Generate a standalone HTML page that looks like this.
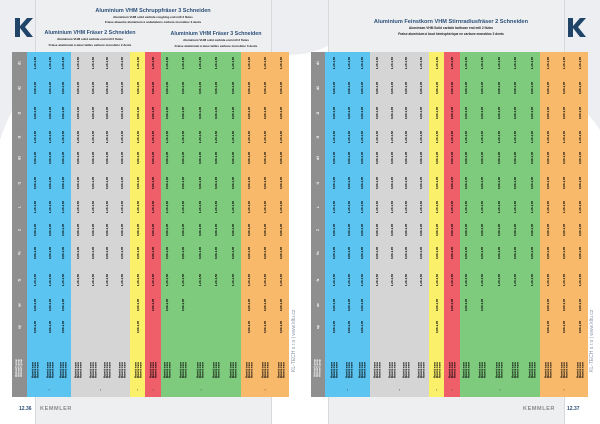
<!DOCTYPE html>
<html><head><meta charset="utf-8"><style>
html,body{margin:0;padding:0;background:#fff;width:600px;height:424px;overflow:hidden}
svg{display:block}
text{font-family:"Liberation Sans",sans-serif}
</style></head><body>
<svg id="s" width="600" height="424" viewBox="0 0 600 424" xmlns="http://www.w3.org/2000/svg">
<path d="M0 0H600V130Q560 70 470 48Q400 40 330 45Q300 60 270 52Q150 40 60 60Q20 80 0 140Z" fill="#eceef1"/>
<rect x="35" y="0" width="237" height="424" fill="#eeeff1"/>
<rect x="328" y="0" width="237" height="424" fill="#eeeff1"/>
<line x1="35.5" y1="0" x2="35.5" y2="424" stroke="#c9cacc" stroke-width="0.6"/>
<line x1="271.5" y1="0" x2="271.5" y2="424" stroke="#c9cacc" stroke-width="0.6"/>
<line x1="328.5" y1="0" x2="328.5" y2="424" stroke="#c9cacc" stroke-width="0.6"/>
<line x1="564.5" y1="0" x2="564.5" y2="424" stroke="#c9cacc" stroke-width="0.6"/>
<g fill="#1f4468">
<path d="M15 18h5v8l7-8h6l-8 9 8 10h-6l-7-9v9h-5z"/>
<path d="M568 18h5v8l7-8h6l-8 9 8 10h-6l-7-9v9h-5z"/>
</g>
<g fill="#2b4f78" text-anchor="middle" font-weight="bold">
<text x="153" y="12" font-size="5.5">Aluminium VHM Schruppfräser 3 Schneiden</text>
<text x="153" y="18" font-size="3" fill="#222">Aluminium VHM solid carbide roughing end mill 3 flutes</text>
<text x="153" y="23" font-size="3" fill="#222">Fraise ébauche aluminium à ondulations carbure monobloc 3 dents</text>
<text x="90" y="34" font-size="5.3">Aluminium VHM Fräser 2 Schneiden</text>
<text x="90" y="40" font-size="3" fill="#222">Aluminium VHM solid carbide end mill 2 flutes</text>
<text x="90" y="46" font-size="3" fill="#222">Fraise aluminium à deux tailles carbure monobloc 2 dents</text>
<text x="216" y="35" font-size="5.3">Aluminium VHM Fräser 3 Schneiden</text>
<text x="216" y="41" font-size="3" fill="#222">Aluminium VHM solid carbide end mill 3 flutes</text>
<text x="216" y="47" font-size="3" fill="#222">Fraise aluminium à deux tailles carbure monobloc 3 dents</text>
<text x="451" y="23" font-size="5.6">Aluminium Feinstkorn VHM Stirnradiusfräser 2 Schneiden</text>
<text x="451" y="29" font-size="3.2" fill="#222">Aluminium VHM Solid carbide ballnose end mill 2 flutes</text>
<text x="451" y="35" font-size="3.2" fill="#222">Fraise aluminium à bout hémisphérique en carbure monobloc 2 dents</text>
</g>
<g id="tables"></g>
<text x="19" y="410" font-size="5" fill="#2b4f78" font-weight="bold">12.36</text>
<text x="40" y="410" font-size="5.5" fill="#8a8a8a" font-weight="bold" letter-spacing="0.6">KEMMLER</text>
<text x="523" y="410" font-size="5.5" fill="#8a8a8a" font-weight="bold" letter-spacing="0.6">KEMMLER</text>
<text x="567" y="410" font-size="5" fill="#2b4f78" font-weight="bold">12.37</text>
<text transform="translate(295,372) rotate(-90)" font-size="5" fill="#8a97a8">KL-TECH s.r.o | www.kltu.cz</text>
<text transform="translate(593,372) rotate(-90)" font-size="5" fill="#8a97a8">KL-TECH s.r.o | www.kltu.cz</text>
</svg>
<script>
(function(){
var g=document.getElementById('tables');var ns='http://www.w3.org/2000/svg';
function R(x,y,w,h,c){var r=document.createElementNS(ns,'rect');r.setAttribute('x',x);r.setAttribute('y',y);r.setAttribute('width',w);r.setAttribute('height',h);r.setAttribute('fill',c);g.appendChild(r);}
function T(x,y,s,fs,c){var t=document.createElementNS(ns,'text');t.setAttribute('transform','translate('+x+','+y+') rotate(-90)');t.setAttribute('font-size',fs);t.setAttribute('fill',c);t.setAttribute('text-anchor','middle');t.setAttribute('font-weight','bold');t.textContent=s;g.appendChild(t);}
var cols=['#8f8f8f','#5cc4f0','#d5d5d5','#fbf06a','#ef5f6a','#7ecb7e','#f8b96b'];
var L=[12,27,71,130,145,161,241,289],Rr=[311,325,370,429,444,460,540,588];
var rows=[63,88,113,137,158,183,207,230,253,280,305,327];
var hdr=['d1','d2','l2','l3','d3','l1','L','Z','Vc','fz','ae','ap'];
function tbl(P,subs,empty){
 for(var i=0;i<7;i++)R(P[i],52,P[i+1]-P[i],345,cols[i]);
 rows.forEach(function(y,j){T((P[0]+P[1])/2+1,y,hdr[j],3.2,'#fff');});
 for(var k=0;k<3;k++)T((P[0]+P[1])/2+k*2.6-2.5,368,'Werkstoff group',2.3,'#fff');
 subs.forEach(function(sx,ci){
  rows.forEach(function(y,j){
   if(empty(ci,j))return;
   T(sx+1,y,j%3==0?'1,20-1,50':'0,80-1,05',2.9,'#000');
  });
  for(var k=0;k<3;k++)T(sx-1.5+k*2.4,370,'Material name',2.4,'#000');
 });
 [[1,2],[2,3],[3,4],[4,5],[5,6],[6,7]].forEach(function(p){T((P[p[0]]+P[p[1]])/2+1,390,'▪',3,'#222');});
}
var sl=[35,50,63,78,93,107,122,138,153,167,183,200,216,233,249,265,281];
function em(ci,j){return (j>=10&&ci>=3&&ci<=6)||(j>=10&&ci>=11&&ci<=13)||(j==11&&ci>=8&&ci<=10);}
tbl(L,sl,em);
var sr=sl.map(function(x){return x+299;});
tbl(Rr,sr,em);
})();
</script>
</body></html>
